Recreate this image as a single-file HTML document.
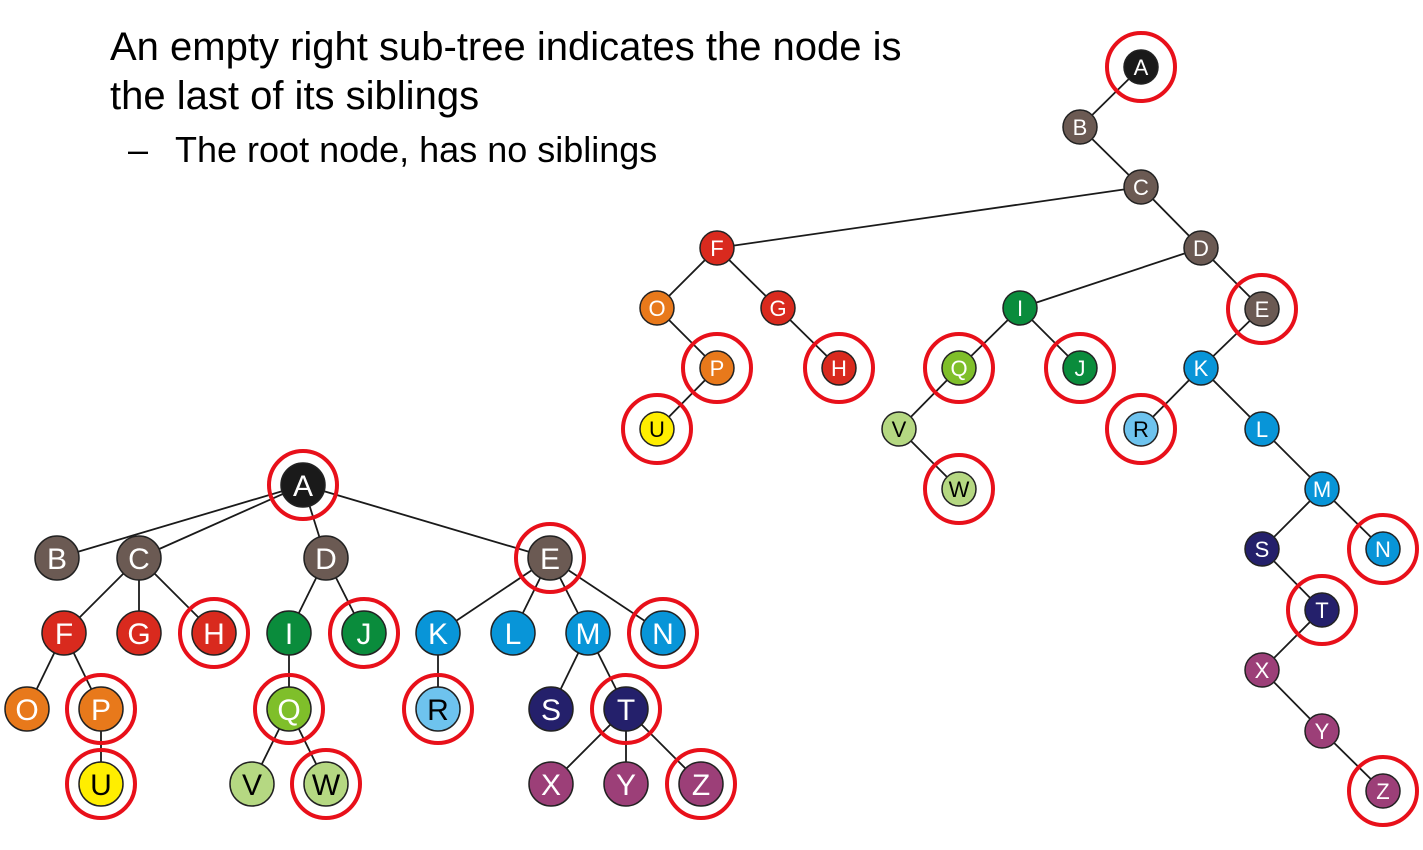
<!DOCTYPE html>
<html><head><meta charset="utf-8"><style>
body{margin:0;background:#fff;width:1423px;height:850px;overflow:hidden}
svg{position:absolute;left:0;top:0}
</style></head><body>
<svg width="1423" height="850" xmlns="http://www.w3.org/2000/svg" font-family="Liberation Sans, sans-serif">
<text x="110" y="60" font-size="40" fill="#000">An empty right sub-tree indicates the node is</text>
<text x="110" y="109" font-size="40" fill="#000">the last of its siblings</text>
<text x="128" y="162" font-size="36" fill="#000">–</text>
<text x="175" y="162" font-size="36" fill="#000">The root node, has no siblings</text>
<g id="g"></g>
</svg>
<script>
const C={k:'#1a1a1a',b:'#6b5a53',r:'#d92a1e',o:'#e8791b',y:'#ffee00',lg:'#7fbf2a',pg:'#b5d882',dg:'#0a8c3c',bl:'#0895d8',lb:'#6ec3ee',n:'#24206b',p:'#9c3f78'};
const col={A:'k',B:'b',C:'b',D:'b',E:'b',F:'r',G:'r',H:'r',O:'o',P:'o',U:'y',I:'dg',J:'dg',Q:'lg',V:'pg',W:'pg',K:'bl',L:'bl',M:'bl',N:'bl',R:'lb',S:'n',T:'n',X:'p',Y:'p',Z:'p'};
const dark={U:1,R:1,V:1,W:1};
const ring='AEHJNPQRTUWZ';
const R={A:[1141,67],B:[1080,127],C:[1141,187],F:[717,248],D:[1201,248],O:[657,308],G:[778,308],I:[1020,308],E:[1262,309],P:[717,368],H:[839,368],Q:[959,368],J:[1080,368],K:[1201,368],U:[657,429],V:[899,429],R:[1141,429],L:[1262,429],W:[959,489],M:[1322,489],S:[1262,549],N:[1383,549],T:[1322,610],X:[1262,670],Y:[1322,731],Z:[1383,791]};
const RE='AB BC CF CD FO FG OP PU GH DI DE IQ IJ QV VW EK KR KL LM MS MN ST TX XY YZ';
const L={A:[303,485],B:[57,558],C:[139,558],D:[326,558],E:[550,558],F:[64,633],G:[139,633],H:[214,633],I:[289,633],J:[364,633],K:[438,633],L:[513,633],M:[588,633],N:[663,633],O:[27,709],P:[101,709],Q:[289,709],R:[438,709],S:[551,709],T:[626,709],U:[101,784],V:[252,784],W:[326,784],X:[551,784],Y:[626,784],Z:[701,784]};
const LE='AB AC AD AE CF CG CH DI DJ EK EL EM EN FO FP PU IQ QV QW KR MS MT TX TY TZ';
let s='';
function tree(P,E,r,rr,fs){
 E.split(' ').forEach(e=>{const a=P[e[0]],b=P[e[1]];s+=`<line x1="${a[0]}" y1="${a[1]}" x2="${b[0]}" y2="${b[1]}" stroke="#1a1a1a" stroke-width="1.8"/>`;});
 for(const k in P){const [x,y]=P[k];
  s+=`<circle cx="${x}" cy="${y}" r="${r}" fill="${C[col[k]]}" stroke="#222" stroke-width="1.5"/>`;
  if(ring.includes(k)) s+=`<circle cx="${x}" cy="${y}" r="${rr}" fill="none" stroke="#e8101a" stroke-width="4"/>`;
  s+=`<text x="${x}" y="${y+fs*0.36}" font-size="${fs}" text-anchor="middle" fill="${dark[k]?'#000':'#fff'}">${k}</text>`;}
}
tree(R,RE,17,34,22);tree(L,LE,22,34,30);
document.getElementById('g').innerHTML=s;
</script>
</body></html>
